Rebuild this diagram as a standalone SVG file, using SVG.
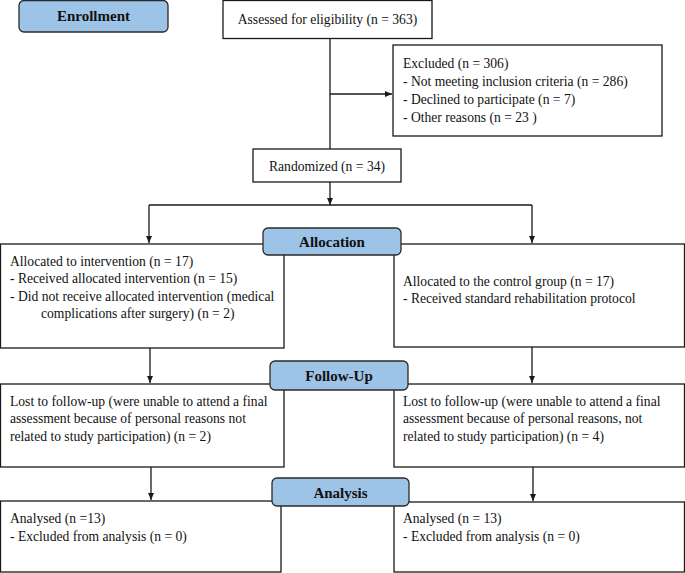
<svg xmlns="http://www.w3.org/2000/svg" width="685" height="573" viewBox="0 0 685 573">
<style>
.box{fill:#fff;stroke:#1a1a1a;stroke-width:1.3}
.lbl{fill:#9dc3e6;stroke:#2a2a2a;stroke-width:1.3}
.t{font-family:"Liberation Serif","Times New Roman",serif;font-size:13.6px;fill:#111}
.b{font-family:"Liberation Serif","Times New Roman",serif;font-size:15px;font-weight:bold;fill:#111;text-anchor:middle}
.c{text-anchor:middle}
.ln{fill:none;stroke:#1a1a1a;stroke-width:1.3}
</style>
<defs>
<marker id="ah" markerWidth="8" markerHeight="8" refX="7" refY="4" orient="auto" markerUnits="userSpaceOnUse">
<path d="M0,1 L7,4 L0,7 Z" fill="#1a1a1a"/>
</marker>
</defs>
<g id="connectors">
<path class="ln" d="M330,38 V149"/>
<path class="ln" d="M330,94 H392" marker-end="url(#ah)"/>
<path class="ln" d="M330,182 V205" marker-end="url(#ah)"/>
<path class="ln" d="M149,205 H532"/>
<path class="ln" d="M149,205 V243" marker-end="url(#ah)"/>
<path class="ln" d="M532,205 V243" marker-end="url(#ah)"/>
<path class="ln" d="M150,348 V383" marker-end="url(#ah)"/>
<path class="ln" d="M532,347 V383" marker-end="url(#ah)"/>
<path class="ln" d="M151,467 V500" marker-end="url(#ah)"/>
<path class="ln" d="M533,467 V501" marker-end="url(#ah)"/>
</g>
<g id="assessed">
<rect class="box" x="223" y="0.5" width="209" height="38"/>
<text class="t c" x="327.5" y="23.5">Assessed for eligibility (n = 363)</text>
</g>
<g id="excluded">
<rect class="box" x="393" y="45" width="269" height="91"/>
<text class="t" x="403" y="67.5">Excluded (n = 306)</text>
<text class="t" x="403" y="85.5">- Not meeting inclusion criteria (n = 286)</text>
<text class="t" x="403" y="103.5">- Declined to participate (n = 7)</text>
<text class="t" x="403" y="121.5">- Other reasons (n = 23 )</text>
</g>
<g id="randomized">
<rect class="box" x="253" y="149" width="148" height="33"/>
<text class="t c" x="327" y="171">Randomized (n = 34)</text>
</g>
<g id="intervention">
<rect class="box" x="0.5" y="244" width="283.5" height="104"/>
<text class="t" x="10" y="265.5">Allocated to intervention (n = 17)</text>
<text class="t" x="10" y="283">- Received allocated intervention (n = 15)</text>
<text class="t" x="10" y="300.5">- Did not receive allocated intervention (medical</text>
<text class="t" x="41" y="318">complications after surgery) (n = 2)</text>
</g>
<g id="control">
<rect class="box" x="394" y="244" width="290.5" height="103"/>
<text class="t" x="403" y="285.5">Allocated to the control group (n = 17)</text>
<text class="t" x="403" y="303">- Received standard rehabilitation protocol</text>
</g>
<g id="lost-left">
<rect class="box" x="0.5" y="384" width="283.5" height="83"/>
<text class="t" x="10" y="405.5">Lost to follow-up (were unable to attend a final</text>
<text class="t" x="10" y="423">assessment because of personal reasons not</text>
<text class="t" x="10" y="440.5">related to study participation) (n = 2)</text>
</g>
<g id="lost-right">
<rect class="box" x="394" y="384" width="290.5" height="83"/>
<text class="t" x="403" y="405.5">Lost to follow-up (were unable to attend a final</text>
<text class="t" x="403" y="423">assessment because of personal reasons, not</text>
<text class="t" x="403" y="440.5">related to study participation) (n = 4)</text>
</g>
<g id="analysed-left">
<rect class="box" x="0.5" y="501" width="280.5" height="71"/>
<text class="t" x="10" y="522.5">Analysed (n =13)</text>
<text class="t" x="10" y="540.5">- Excluded from analysis (n = 0)</text>
</g>
<g id="analysed-right">
<rect class="box" x="394" y="502" width="290.5" height="70"/>
<text class="t" x="403" y="522.5">Analysed (n = 13)</text>
<text class="t" x="403" y="540.5">- Excluded from analysis (n = 0)</text>
</g>
<g id="enrollment">
<rect class="lbl" x="19" y="0.5" width="149" height="31.5" rx="5"/>
<text class="b" x="93.5" y="20.5">Enrollment</text>
</g>
<g id="allocation">
<rect class="lbl" x="263" y="228" width="138" height="27" rx="5"/>
<text class="b" x="332" y="247">Allocation</text>
</g>
<g id="follow-up">
<rect class="lbl" x="270" y="361" width="138" height="29" rx="5"/>
<text class="b" x="339" y="381">Follow-Up</text>
</g>
<g id="analysis">
<rect class="lbl" x="272" y="478" width="137" height="28" rx="5"/>
<text class="b" x="340.5" y="497.5">Analysis</text>
</g>
</svg>
